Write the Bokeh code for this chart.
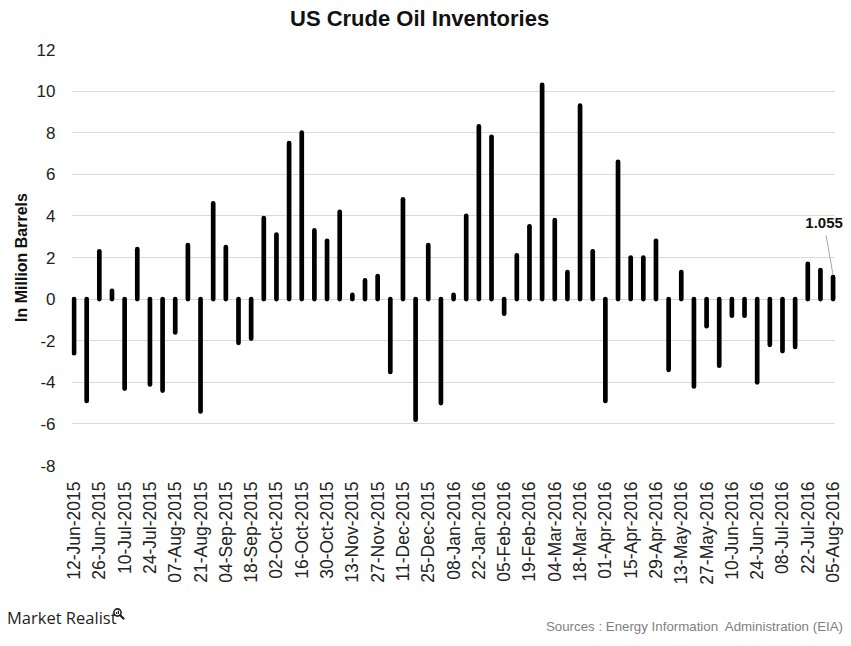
import math
from bokeh.plotting import figure
from bokeh.layouts import column
from bokeh.models import Range1d, FixedTicker, Label, ColumnDataSource, BoxAnnotation, Div
from bokeh.embed import file_html
from bokeh.resources import INLINE

# Weekly change in US crude oil inventories (million barrels), 12-Jun-2015 .. 05-Aug-2016
values = [
    -2.6, -4.9, 2.3, 0.4, -4.3, 2.4, -4.1, -4.4, -1.6, 2.6,
    -5.4, 4.6, 2.5, -2.1, -1.9, 3.9, 3.1, 7.5, 8.0, 3.3,
    2.8, 4.2, 0.2, 0.9, 1.1, -3.5, 4.8, -5.8, 2.6, -5.0,
    0.2, 4.0, 8.3, 7.8, -0.7, 2.1, 3.5, 10.3, 3.8, 1.3,
    9.3, 2.3, -4.9, 6.6, 2.0, 2.0, 2.8, -3.4, 1.3, -4.2,
    -1.3, -3.2, -0.8, -0.8, -4.0, -2.2, -2.5, -2.3, 1.7, 1.4,
    1.055,
]
weeks = list(range(len(values)))

tick_labels = [
    "12-Jun-2015", "26-Jun-2015", "10-Jul-2015", "24-Jul-2015", "07-Aug-2015",
    "21-Aug-2015", "04-Sep-2015", "18-Sep-2015", "02-Oct-2015", "16-Oct-2015",
    "30-Oct-2015", "13-Nov-2015", "27-Nov-2015", "11-Dec-2015", "25-Dec-2015",
    "08-Jan-2016", "22-Jan-2016", "05-Feb-2016", "19-Feb-2016", "04-Mar-2016",
    "18-Mar-2016", "01-Apr-2016", "15-Apr-2016", "29-Apr-2016", "13-May-2016",
    "27-May-2016", "10-Jun-2016", "24-Jun-2016", "08-Jul-2016", "22-Jul-2016",
    "05-Aug-2016",
]
tick_positions = weeks[::2]
y_ticks = [-8, -6, -4, -2, 0, 2, 4, 6, 8, 10, 12]

TITLE = "US Crude Oil Inventories"
FONT = "Liberation Sans"
X_START = -0.2
GRID_END = 60.12   # gridlines stop here on the right
X_END = 61.06      # frame extends a little further to leave room for the value label

# title strip
title_html = f"""
<div style="position:relative;width:851px;height:30px;overflow:hidden;">
  <span style="position:absolute;left:290px;top:8px;font-family:'Liberation Sans';font-weight:bold;
               font-size:22px;line-height:1;color:#111111;white-space:nowrap;">{TITLE}</span>
</div>
"""
title_div = Div(text=title_html, width=851, height=30, margin=(0, 0, 0, 0))

p = figure(
    width=851, height=568,
    output_backend="svg", toolbar_location=None,
    x_range=Range1d(X_START, X_END), y_range=Range1d(-8, 12),
    min_border_left=71, min_border_right=5, min_border_top=19, min_border_bottom=133,
)
p.outline_line_color = None
p.background_fill_color = "white"
p.border_fill_color = "white"

# mask gridlines to the right of the plotting area
p.add_layout(BoxAnnotation(left=GRID_END, fill_color="white", fill_alpha=1.0,
                           line_color=None, level="underlay"))

src = ColumnDataSource(dict(x=weeks, y0=[0] * len(values), y1=values))
p.segment(x0="x", y0="y0", x1="x", y1="y1", source=src,
          line_color="black", line_width=4.7, line_cap="round")

# axes
p.xgrid.grid_line_color = None
p.ygrid.grid_line_color = "#d9d9d9"
p.ygrid.grid_line_width = 1
p.ygrid.ticker = FixedTicker(ticks=y_ticks)

p.yaxis.ticker = FixedTicker(ticks=y_ticks)
p.yaxis.major_label_overrides = {t: str(t) for t in y_ticks}
p.yaxis.axis_line_color = None
p.yaxis.major_tick_line_color = None
p.yaxis.minor_tick_line_color = None
p.yaxis.major_label_text_font = FONT
p.yaxis.major_label_text_font_size = "17px"
p.yaxis.major_label_text_color = "#222222"
p.yaxis.major_label_standoff = 10
p.yaxis.axis_label = "In Million Barrels"
p.yaxis.axis_label_text_font = FONT
p.yaxis.axis_label_text_font_size = "16px"
p.yaxis.axis_label_text_font_style = "bold"
p.yaxis.axis_label_text_color = "#111111"
p.yaxis.axis_label_standoff = 4

p.xaxis.ticker = FixedTicker(ticks=tick_positions)
p.xaxis.major_label_overrides = {pos: lab for pos, lab in zip(tick_positions, tick_labels)}
p.xaxis.major_label_orientation = math.pi / 2
p.xaxis.axis_line_color = None
p.xaxis.major_tick_line_color = None
p.xaxis.minor_tick_line_color = None
p.xaxis.major_label_text_font = FONT
p.xaxis.major_label_text_font_size = "17.5px"
p.xaxis.major_label_text_color = "#222222"
p.xaxis.major_label_standoff = 10

# annotation for the latest value
last_x = weeks[-1]
last_y = values[-1]
p.segment(x0=[last_x], y0=[last_y + 0.1], x1=[last_x - 0.55], y1=[last_y + 2.0],
          line_color="#a6a6a6", line_width=1)
p.add_layout(Label(x=last_x, y=last_y, text=f"{last_y:.3f}", x_offset=-9, y_offset=54,
                   text_align="center", text_baseline="middle", text_font=FONT,
                   text_font_size="15px", text_font_style="bold", text_color="#111111"))

# footer strip (brand and source)
footer_html = """
<div style="position:relative;width:851px;height:46px;overflow:hidden;">
  <span style="position:absolute;left:7px;top:12px;font-family:'Open Sans';font-size:16.5px;
               line-height:1;color:#231f20;white-space:nowrap;">Market Realist</span>
  <svg style="position:absolute;left:112px;top:7px;" width="14" height="16" viewBox="0 0 14 16">
    <circle cx="5.5" cy="7.5" r="3.6" fill="none" stroke="#231f20" stroke-width="1.6"/>
    <line x1="8.2" y1="10.2" x2="11.5" y2="13.6" stroke="#231f20" stroke-width="2.2" stroke-linecap="round"/>
    <rect x="4" y="7" width="1.2" height="2" fill="#231f20"/>
    <rect x="5.8" y="5.6" width="1.2" height="3.4" fill="#231f20"/>
  </svg>
  <span style="position:absolute;right:8px;top:22px;font-family:'Liberation Sans';font-size:13.3px;
               line-height:1;color:#7f7f7f;white-space:nowrap;">Sources : Energy Information&nbsp; Administration (EIA)</span>
</div>
"""
footer = Div(text=footer_html, width=851, height=46, margin=(0, 0, 0, 0))

layout = column(title_div, p, footer, spacing=0)
open("out.html", "w").write(file_html(layout, INLINE))
